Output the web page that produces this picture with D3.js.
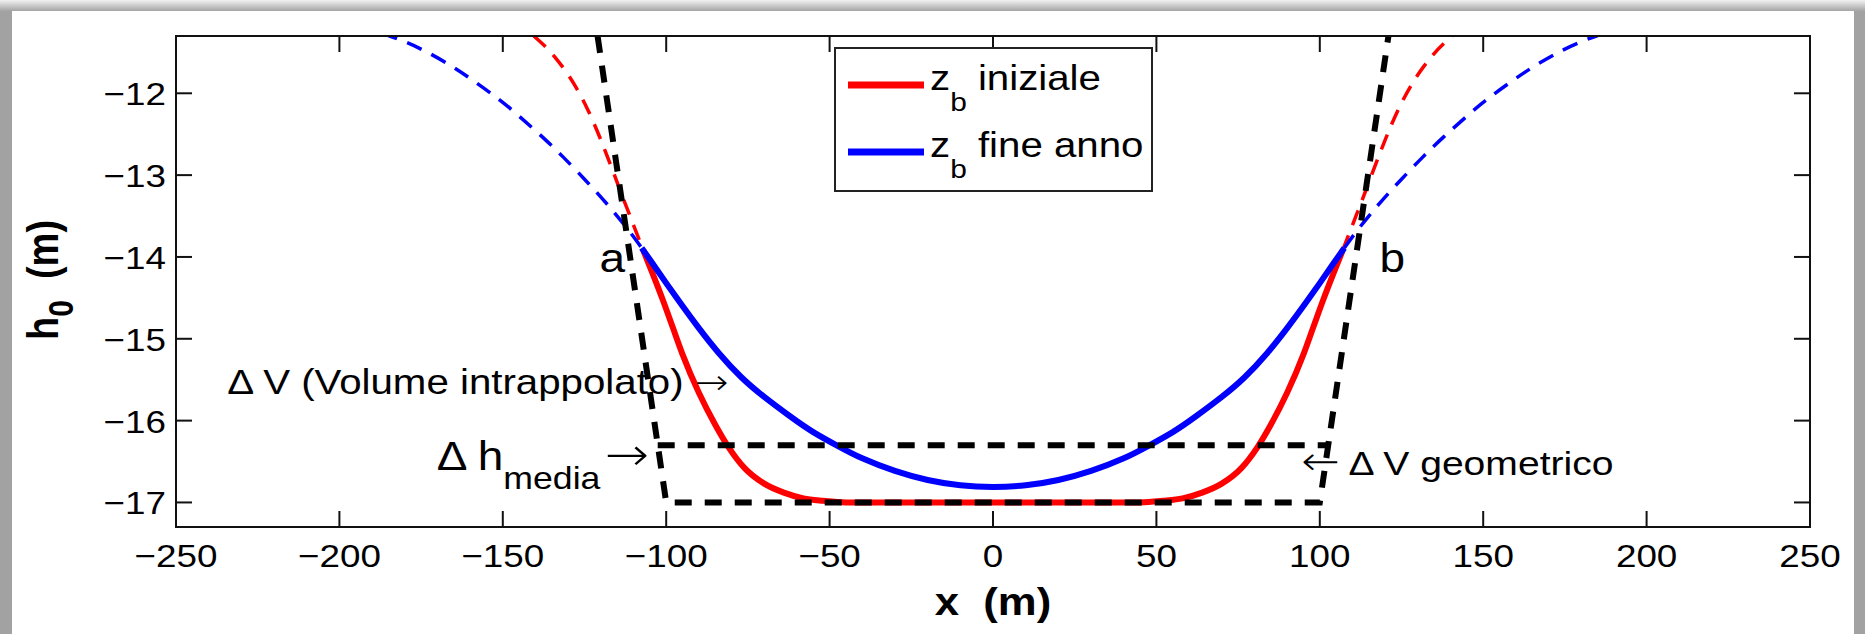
<!DOCTYPE html>
<html><head><meta charset="utf-8">
<script src="https://cdn.jsdelivr.net/npm/d3@7"></script>
<style>html,body{margin:0;padding:0;background:#fff;}svg{display:block}</style>
</head><body><svg id="c" width="1865" height="634"></svg>
<script>
// ---------- data ----------
const xTicks = [-250,-200,-150,-100,-50,0,50,100,150,200,250];
const yTicks = [-17,-16,-15,-14,-13,-12];
const xDomain = [-250, 250];
const yDomain = [-17.3, -11.3];

// z_b iniziale (solid part between a and b)
const redSolid = [[-107,-13.92],[-104,-14.22],[-101,-14.53],[-98,-14.86],[-95,-15.19],[-90,-15.66],[-85,-16.05],[-81,-16.32],[-76,-16.58],[-70,-16.77],[-64,-16.88],[-58,-16.95],[-52,-16.98],[-45,-17.0],[0,-17.0],[45,-17.0],[52,-16.98],[58,-16.95],[64,-16.88],[70,-16.77],[76,-16.58],[81,-16.32],[85,-16.05],[90,-15.66],[95,-15.19],[98,-14.86],[101,-14.53],[104,-14.22],[107,-13.92]];
// z_b iniziale, dashed continuation outside a-b
const redDashLeft = [[-140.5,-11.3],[-134,-11.56],[-128,-11.9],[-124,-12.2],[-120,-12.57],[-116.5,-12.93],[-113.3,-13.27],[-110,-13.61],[-107,-13.92]];
const redDashRight = [[107,-13.92],[110,-13.61],[113.3,-13.27],[116.5,-12.93],[120,-12.57],[124,-12.2],[128,-11.9],[134,-11.56],[140.5,-11.3]];
// z_b fine anno (solid part)
const blueSolid = [[-107.5,-13.89],[-104,-14.09],[-100,-14.32],[-95,-14.6],[-90,-14.87],[-84,-15.17],[-77,-15.47],[-70,-15.71],[-62,-15.95],[-55,-16.14],[-47,-16.32],[-40,-16.46],[-30,-16.615],[-20,-16.725],[-10,-16.79],[0,-16.81],[10,-16.79],[20,-16.725],[30,-16.615],[40,-16.46],[47,-16.32],[55,-16.14],[62,-15.95],[70,-15.71],[77,-15.47],[84,-15.17],[90,-14.87],[95,-14.6],[100,-14.32],[104,-14.09],[107.5,-13.89]];
const blueDashLeft = [[-187,-11.27],[-184.6,-11.3],[-180,-11.37],[-174,-11.48],[-166,-11.66],[-158.5,-11.86],[-151,-12.08],[-145,-12.28],[-138,-12.53],[-131.5,-12.78],[-125,-13.05],[-119.5,-13.29],[-115,-13.5],[-111,-13.7],[-107.5,-13.89]];
const blueDashRight = [[107.5,-13.89],[111,-13.7],[115,-13.5],[119.5,-13.29],[125,-13.05],[131.5,-12.78],[138,-12.53],[145,-12.28],[151,-12.08],[158.5,-11.86],[166,-11.66],[174,-11.48],[180,-11.37],[184.6,-11.3],[187,-11.27]];
// geometric trapezoid and mean level
const trapezoid = [[-121,-11.3],[-100,-17],[100,-17],[121,-11.3]];
const meanLevel = [[-102.6,-16.3],[102.6,-16.3]];
const legendLabels = ["iniziale","fine anno"];
const legendColors = ["#ff0000","#0000ff"];

// ---------- layout ----------
const W = 1865, H = 634;
const M = {left:176, right:1810, top:36, bottom:527};
const SX = 1.15;
const FONT = '"Liberation Sans", Arial, Helvetica, sans-serif';
const AFONT = '"DejaVu Sans", sans-serif';
const svg = d3.select('#c');
const x = d3.scaleLinear().domain(xDomain).range([M.left, M.right]);
const y = d3.scaleLinear().domain(yDomain).range([M.bottom, M.top]);

// frame (grey border of the screenshot)
const defs = svg.append('defs');
const g1 = defs.append('linearGradient').attr('id','topg').attr('x1',0).attr('y1',0).attr('x2',0).attr('y2',1);
g1.append('stop').attr('offset','0%').attr('stop-color','#f2f2f2');
g1.append('stop').attr('offset','100%').attr('stop-color','#a4a4a4');
svg.append('rect').attr('width',W).attr('height',H).attr('fill','#a2a2a2');
svg.append('rect').attr('x',0).attr('y',0).attr('width',W).attr('height',11).attr('fill','url(#topg)');
svg.append('rect').attr('x',12).attr('y',11).attr('width',1854-12).attr('height',H-11).attr('fill','#fff');

defs.append('clipPath').attr('id','clip').append('rect')
  .attr('x',M.left).attr('y',M.top).attr('width',M.right-M.left).attr('height',M.bottom-M.top);

function label(px, py, size, anchor, weight){
  return svg.append('text')
    .attr('transform',`translate(${px},${py}) scale(${SX},1)`)
    .attr('font-family',FONT).attr('font-size',size)
    .attr('text-anchor',anchor||'start').attr('font-weight',weight||'normal')
    .attr('fill','#000').style('white-space','pre');
}

// ---------- curves ----------
const line = d3.line().x(d=>x(d[0])).y(d=>y(d[1])).curve(d3.curveMonotoneX);
const smooth = d3.line().x(d=>x(d[0])).y(d=>y(d[1])).curve(d3.curveNatural);
const lineLin = d3.line().x(d=>x(d[0])).y(d=>y(d[1]));
const plot = svg.append('g').attr('clip-path','url(#clip)');

[redDashLeft, redDashRight].forEach(d=>plot.append('path').attr('d',line(d))
  .attr('fill','none').attr('stroke','#ff0000').attr('stroke-width',3.5).attr('stroke-dasharray','16,11'));
[blueDashLeft, blueDashRight].forEach(d=>plot.append('path').attr('d',smooth(d))
  .attr('fill','none').attr('stroke','#0000ff').attr('stroke-width',3.5).attr('stroke-dasharray','16,11'));
plot.append('path').attr('d',line(redSolid)).attr('fill','none').attr('stroke','#ff0000').attr('stroke-width',6);
plot.append('path').attr('d',smooth(blueSolid)).attr('fill','none').attr('stroke','#0000ff').attr('stroke-width',6);
plot.append('path').attr('d',lineLin(trapezoid)).attr('fill','none').attr('stroke','#000').attr('stroke-width',6).attr('stroke-dasharray','17,13');
plot.append('path').attr('d',lineLin(meanLevel)).attr('fill','none').attr('stroke','#000').attr('stroke-width',6).attr('stroke-dasharray','17,13');

// ---------- axes box and ticks ----------
const TL = 16;
const ax = svg.append('g').attr('stroke','#111').attr('stroke-width',2);
ax.append('rect').attr('x',M.left).attr('y',M.top).attr('width',M.right-M.left).attr('height',M.bottom-M.top).attr('fill','none');
xTicks.forEach(t=>{
  ax.append('line').attr('x1',x(t)).attr('x2',x(t)).attr('y1',M.bottom).attr('y2',M.bottom-TL);
  ax.append('line').attr('x1',x(t)).attr('x2',x(t)).attr('y1',M.top).attr('y2',M.top+TL);
});
yTicks.forEach(t=>{
  ax.append('line').attr('y1',y(t)).attr('y2',y(t)).attr('x1',M.left).attr('x2',M.left+TL);
  ax.append('line').attr('y1',y(t)).attr('y2',y(t)).attr('x1',M.right).attr('x2',M.right-TL);
});
const fmt = v => (v<0 ? '\u2212' : '') + Math.abs(v);
xTicks.forEach(t=> label(x(t), 567, 32, 'middle').text(fmt(t)));
yTicks.forEach(t=> label(M.left-10, y(t)+12, 32, 'end').text(fmt(t)));

// axis labels
label((M.left+M.right)/2, 615, 38, 'middle', 'bold').text('x  (m)');
const yl = svg.append('text')
  .attr('transform',`translate(58,280) scale(${SX},1) rotate(-90)`)
  .attr('font-family',FONT).attr('font-size',38).attr('font-weight','bold')
  .attr('text-anchor','middle').style('white-space','pre');
yl.append('tspan').text('h');
yl.append('tspan').attr('font-size',30).attr('dy',13).text('0');
yl.append('tspan').attr('dy',-13).text('  (m)');

// ---------- annotations ----------
label(x(-120.4), y(-14.18), 40).text('a');
label(x(118.3), y(-14.19), 40).text('b');
const dv = label(x(-234.3), y(-15.67), 35);
dv.append('tspan').text('\u0394 V (Volume intrappolato) ');
dv.append('tspan').attr('font-family',AFONT).attr('font-weight',200).text('\u2192');
const dh = label(x(-170.2), y(-16.6), 40);
dh.append('tspan').text('\u0394 h');
dh.append('tspan').attr('font-size',31).attr('dy',19).text('media');
dh.append('tspan').attr('dy',-19).attr('dx',4).attr('font-size',46).attr('font-family',AFONT).attr('font-weight',200).text('\u2192');
const dg = label(x(94.3), y(-16.66), 40);
dg.append('tspan').attr('font-family',AFONT).attr('font-weight',200).text('\u2190');
dg.append('tspan').attr('font-size',34).text(' \u0394 V geometrico');

// ---------- legend ----------
const lg = {x0:835, y0:48, x1:1152, y1:191};
svg.append('rect').attr('x',lg.x0).attr('y',lg.y0).attr('width',lg.x1-lg.x0).attr('height',lg.y1-lg.y0)
  .attr('fill','#fff').attr('stroke','#222').attr('stroke-width',2);
legendLabels.forEach((lab,i)=>{
  const cy = 85 + i*67;
  svg.append('line').attr('x1',848).attr('x2',924).attr('y1',cy).attr('y2',cy)
    .attr('stroke',legendColors[i]).attr('stroke-width',7);
  const t = label(930, cy+5, 35);
  t.append('tspan').text('z');
  t.append('tspan').attr('font-size',26).attr('dy',21).text('b');
  t.append('tspan').attr('dy',-21).text(' ' + lab);
});
</script></body></html>
